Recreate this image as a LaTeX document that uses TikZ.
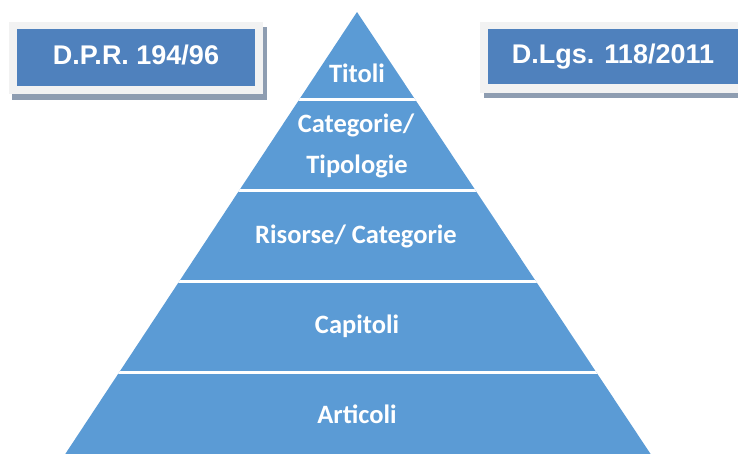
\documentclass[tikz,border=0pt]{standalone}
\usepackage{fontspec}
\newfontfamily\levelfont{Carlito}
\newfontfamily\lawfont{Liberation Sans}
\definecolor{pyrfill}{HTML}{5B9BD5}
\definecolor{lawblue}{HTML}{4F81BD}
\definecolor{lawframe}{HTML}{F2F2F2}
\definecolor{lawshadow}{HTML}{8E9DB1}
\begin{document}
\begin{tikzpicture}[x=1pt,y=-1pt,
  level/.style={font=\levelfont\bfseries\fontsize{26.5}{30}\selectfont, text=white, inner sep=0pt, anchor=base},
  lawtext/.style={font=\lawfont\bfseries\fontsize{27}{30}\selectfont, text=white, inner sep=0pt, anchor=base},
  separator/.style={white, line width=3pt},
]
\useasboundingbox (0,0) rectangle (738,453);

% law boxes: shadow, light frame, blue face
\fill[lawshadow] (12,27) rectangle (267,100);
\fill[lawframe] (8.5,22) rectangle (263,94);
\fill[lawblue] (17,29) rectangle (255,85.5);
\node[lawtext] (dpr) at (136,64) {D.P.R. 194/96};

\fill[lawshadow] (484,27) rectangle (760,98);
\fill[lawframe] (480,22) rectangle (760,93);
\fill[lawblue] (488,29) rectangle (760,84);
\node[lawtext] (dlgs) at (613,63) {D.Lgs. 118/2011};

% pyramid with white separators between levels
\begin{scope}
  \clip (357,12) -- (61.3,460) -- (654.6,460) -- cycle;
  \fill[pyrfill] (0,0) rectangle (738,460);
  \foreach \yy in {99,190,281,372}
    \draw[separator] (0,\yy) -- (738,\yy);
\end{scope}

\node[level] (titoli) at (357,82) {Titoli};
\node[level] (categorie) at (356,132) {Categorie/};
\node[level] (tipologie) at (357,173) {Tipologie};
\node[level] (risorse) at (356,243) {Risorse/ Categorie};
\node[level] (capitoli) at (357,333) {Capitoli};
\node[level] (articoli) at (357,423) {Articoli};
\end{tikzpicture}
\end{document}
